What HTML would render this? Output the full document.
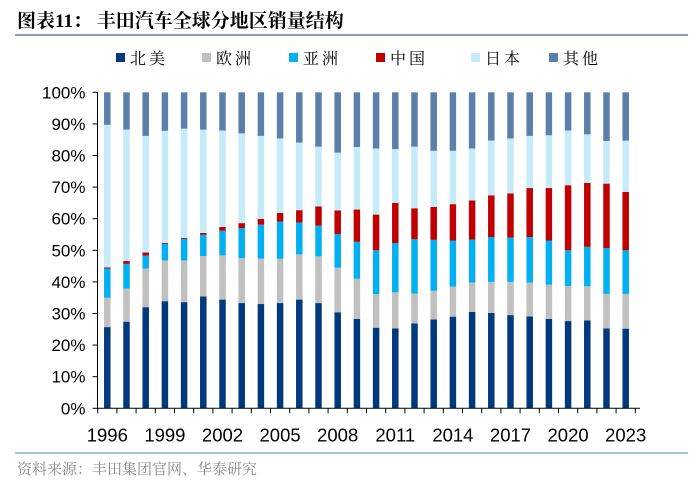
<!DOCTYPE html>
<html><head><meta charset="utf-8">
<style>
body{margin:0;background:#fff;width:700px;height:486px;overflow:hidden;font-family:"Liberation Sans","Noto Sans CJK SC",sans-serif;}
</style></head>
<body>
<svg id="chart" width="700" height="486" xmlns="http://www.w3.org/2000/svg">
<text x="17" y="27" font-size="19" font-weight="bold" fill="#000" font-family="'Liberation Serif','Noto Serif CJK SC',serif">图表11：  丰田汽车全球分地区销量结构</text>
<line x1="15" y1="35" x2="688" y2="35" stroke="#5B7FAA" stroke-width="1.5"/>
<g id="legend"></g>
<g id="plot"></g>
<line x1="15" y1="453" x2="688" y2="453" stroke="#5B7FAA" stroke-width="1"/>
<text x="17" y="474" font-size="15" fill="#888" font-family="'Liberation Serif','Noto Serif CJK SC',serif">资料来源：丰田集团官网、华泰研究</text>
</svg>
<script>
const years=[1996,1997,1998,1999,2000,2001,2002,2003,2004,2005,2006,2007,2008,2009,2010,2011,2012,2013,2014,2015,2016,2017,2018,2019,2020,2021,2022,2023];
const seriesNames=["北美","欧洲","亚洲","中国","日本","其他"];
const northAmerica=[25.7,27.4,32.0,33.9,33.6,35.4,34.4,33.3,33.0,33.3,34.4,33.3,30.4,28.3,25.5,25.3,26.9,28.1,29.0,30.5,30.2,29.5,29.1,28.3,27.6,27.8,25.3,25.2];
const europe=[9.3,10.5,12.2,12.9,13.2,12.8,14.0,14.2,14.4,14.0,14.3,14.8,14.1,12.7,10.6,11.4,9.4,9.1,9.5,9.3,9.8,10.5,10.7,10.8,11.1,10.8,10.9,11.0];
const asia=[9.2,7.8,4.1,5.2,6.8,6.7,7.8,9.5,10.7,11.8,10.1,9.7,10.6,11.7,13.9,15.6,17.2,16.1,14.6,13.6,14.2,14.0,14.4,14.0,11.3,12.5,14.5,13.8];
const china=[0.4,0.9,1.0,0.3,0.3,0.6,1.2,1.6,1.8,2.7,3.9,6.1,7.5,10.2,11.3,12.7,9.8,10.4,11.5,12.4,13.2,14.0,15.5,16.6,20.6,20.2,20.4,18.5];
const japan=[45.1,41.6,36.9,35.5,34.6,32.7,30.5,28.4,26.3,23.6,21.4,18.9,18.3,19.8,20.9,17.0,19.5,17.8,16.9,16.4,17.3,17.4,16.5,16.7,17.3,15.4,13.5,16.2];
const other=years.map((_, i)=>100-northAmerica[i]-europe[i]-asia[i]-china[i]-japan[i]);
const yTicks=[0,10,20,30,40,50,60,70,80,90,100];
const xLabelYears=[1996,1999,2002,2005,2008,2011,2014,2017,2020,2023];
const colors=["#003A7D","#C0C0C0","#00B0F0","#C00000","#C5EBFA","#5B7FAA"];

const NS="http://www.w3.org/2000/svg";
const plot=document.getElementById('plot');
const legend=document.getElementById('legend');
const x0=97.5,x1=640,yTop=92.3,yBot=408.3,step=19.2,barW=6.5;
const yScale=v=>yBot-(v/100)*(yBot-yTop);
const xScale=i=>107.3+i*step;
function mk(tag,attrs,parent){const e=document.createElementNS(NS,tag);for(const k in attrs)e.setAttribute(k,attrs[k]);parent.appendChild(e);return e;}

const all=[northAmerica,europe,asia,china,japan,other];
years.forEach((yr,i)=>{
  let cum=0;
  all.forEach((s,j)=>{
    const v=s[i];
    const r=mk('rect',{x:xScale(i)-barW/2,y:yScale(cum+v),width:barW,height:yScale(cum)-yScale(cum+v),fill:colors[j]},plot);
    
    
    cum+=v;
  });
});
const ya=mk('line',{x1:x0,y1:yTop,x2:x0,y2:yBot,stroke:'#000','stroke-width':1},plot);


const xa=mk('line',{x1:x0,y1:yBot,x2:x1,y2:yBot,stroke:'#000','stroke-width':1},plot);


yTicks.forEach(t=>{
  const y=yScale(t);
  mk('line',{x1:x0-5,y1:y,x2:x0,y2:y,stroke:'#000'},plot);
  const tx=mk('text',{x:x0-12,y:y+6,'text-anchor':'end','font-size':17,fill:'#000'},plot);
  tx.textContent=t+'%';
  
  
});
for(let k=0;k<=years.length;k++){
  const x=xScale(k)-step/2;
  mk('line',{x1:x,y1:yBot,x2:x,y2:yBot+5,stroke:'#000'},plot);
}
xLabelYears.forEach(yr=>{
  const i=years.indexOf(yr);
  const tx=mk('text',{x:xScale(i),y:yBot+33,'text-anchor':'middle','font-size':18.5,fill:'#000'},plot);
  tx.textContent=yr;
  
  
});
const lx=[116,202,289,376,471,549];
seriesNames.forEach((n,j)=>{
  const g=mk('g',{},legend);
  
  
  mk('rect',{x:lx[j],y:53,width:9,height:9,fill:colors[j]},g);
  const t=mk('text',{x:lx[j]+14,y:64,'font-size':16,fill:'#000','letter-spacing':'3','font-family':"'Liberation Serif','Noto Serif CJK SC',serif"},g);
  t.textContent=n;
});
</script>
</body></html>
